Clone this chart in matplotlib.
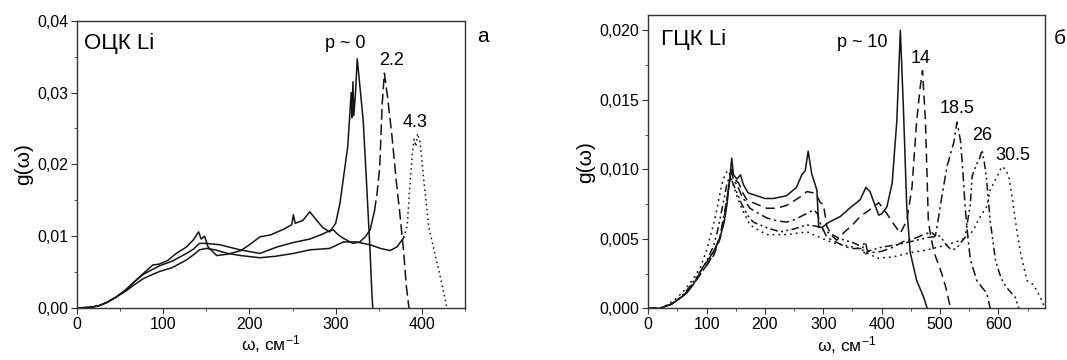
import matplotlib
matplotlib.use("Agg")
import matplotlib.pyplot as plt
from matplotlib.ticker import MultipleLocator, FuncFormatter

plt.rcParams["font.family"] = ["Liberation Sans", "DejaVu Sans"]
plt.rcParams["mathtext.fontset"] = "custom"
plt.rcParams["mathtext.rm"] = "Liberation Sans"
plt.rcParams["mathtext.it"] = "Liberation Sans"

# --- panel a: bcc Li ---
w_p0 = [0, 15, 25, 35, 45, 56, 65, 75, 88, 95, 105, 115, 127, 135, 141, 144, 148, 152,
        162, 175, 190, 200, 212, 225, 240, 249, 251, 253, 262, 270, 276, 285, 293, 300,
        305, 310, 314, 318, 319, 320, 321, 323, 325, 328, 332, 336, 340, 342, 343]
g_p0 = [0, 0.0001, 0.0003, 0.0008, 0.0015, 0.0025, 0.0035, 0.0046, 0.0060, 0.0061, 0.0066,
        0.0076, 0.0085, 0.0095, 0.0106, 0.0096, 0.0100, 0.0085, 0.0073, 0.0075, 0.0080,
        0.0088, 0.0099, 0.0102, 0.0110, 0.0116, 0.0130, 0.0118, 0.0122, 0.0134, 0.0125,
        0.0112, 0.0106, 0.0118, 0.0146, 0.0190, 0.0225, 0.0300, 0.0265, 0.0315, 0.0268,
        0.0300, 0.0347, 0.0310, 0.0260, 0.0170, 0.0076, 0.0020, 0]

w_p22 = [0, 15, 25, 35, 45, 57, 66, 77, 88, 96, 110, 127, 135, 142, 150, 166, 189, 212,
         232, 250, 270, 285, 290, 297, 303, 309, 320, 328, 335, 340, 345, 348, 351, 354,
         356.5, 360, 365, 370, 375, 379, 382, 385]
g_p22 = [0, 0.0001, 0.0003, 0.0008, 0.0015, 0.0025, 0.0036, 0.0047, 0.0054, 0.0059, 0.0065,
         0.0076, 0.0082, 0.0090, 0.0090, 0.0088, 0.0081, 0.0076, 0.0085, 0.0091, 0.0096,
         0.0103, 0.0106, 0.0109, 0.0102, 0.0097, 0.0090, 0.0092, 0.0100, 0.0109, 0.0135,
         0.0160, 0.0195, 0.0285, 0.0327, 0.0295, 0.0243, 0.0180, 0.0125, 0.0076, 0.0030, 0]

w_p43 = [0, 15, 25, 35, 45, 57, 66, 77, 88, 96, 110, 127, 135, 142, 150, 160, 175, 190,
         212, 230, 251, 270, 293, 309, 324, 340, 352, 363, 371, 379, 383, 386, 389, 391,
         393, 395, 398, 402, 408, 415, 422, 429]
g_p43 = [0, 0.0001, 0.0003, 0.0008, 0.0015, 0.0024, 0.0032, 0.0041, 0.0047, 0.0051, 0.0056,
         0.0067, 0.0074, 0.0081, 0.0083, 0.0081, 0.0076, 0.0073, 0.0070, 0.0072, 0.0076,
         0.0081, 0.0083, 0.0092, 0.0092, 0.0088, 0.0083, 0.0080, 0.0085, 0.0098, 0.0115,
         0.0169, 0.0215, 0.0235, 0.0225, 0.0243, 0.0230, 0.0180, 0.0113, 0.0076, 0.0040, 0]

# --- panel б: fcc Li ---
w_p10 = [0, 20, 26, 40, 49, 60, 66, 77, 85, 94, 103, 112, 123, 130, 135, 140, 143, 146,
         152, 158, 163, 171, 186, 200, 214, 237, 254, 263, 269, 274, 280, 289, 292, 297,
         310, 329, 345, 363, 373, 380, 386, 395, 400, 409, 418, 426, 432, 437, 443, 449,
         460, 472, 478]
g_p10 = [0, 0, 0.0001, 0.0003, 0.0006, 0.0009, 0.0011, 0.0017, 0.0023, 0.0030, 0.0035,
         0.0041, 0.0051, 0.0062, 0.0075, 0.0095, 0.0108, 0.0096, 0.0093, 0.0096, 0.0089,
         0.0083, 0.0081, 0.0079, 0.0079, 0.0081, 0.0087, 0.0096, 0.0099, 0.0113, 0.0097,
         0.0085, 0.0059, 0.0058, 0.0062, 0.0066, 0.0072, 0.0078, 0.0087, 0.0084, 0.0077,
         0.0067, 0.0068, 0.0073, 0.0090, 0.0135, 0.0200, 0.0147, 0.0073, 0.0040, 0.0020,
         0.0008, 0]

w_p14 = [0, 20, 26, 40, 50, 60, 70, 80, 90, 100, 112, 123, 132, 138, 143, 148, 155, 162,
         169, 185, 203, 220, 237, 260, 272, 283, 290, 295, 300, 306, 315, 323, 334, 350,
         363, 380, 395, 402, 409, 420, 432, 443, 452, 460, 466, 470, 475, 480, 484, 490,
         503, 510, 518]
g_p14 = [0, 0, 0.0001, 0.0003, 0.0006, 0.0009, 0.0014, 0.0019, 0.0025, 0.0031, 0.0038,
         0.0050, 0.0070, 0.0088, 0.0100, 0.0093, 0.0090, 0.0083, 0.0078, 0.0075, 0.0072,
         0.0072, 0.0074, 0.0080, 0.0084, 0.0083, 0.0080, 0.0076, 0.0075, 0.0059, 0.0052,
         0.0049, 0.0054, 0.0060, 0.0066, 0.0071, 0.0076, 0.0072, 0.0068, 0.0061, 0.0054,
         0.0063, 0.0087, 0.0135, 0.0159, 0.0171, 0.0135, 0.0063, 0.0052, 0.0040, 0.0025,
         0.0015, 0]

w_p185 = [0, 20, 26, 40, 50, 60, 70, 80, 90, 100, 112, 123, 132, 138, 142, 147, 153, 160,
          174, 190, 203, 220, 237, 252, 266, 276, 283, 290, 295, 306, 320, 340, 352, 365,
          372, 375, 380, 400, 420, 437, 455, 472, 485, 492, 495, 503, 512, 518, 524, 529,
          535, 539, 543, 548, 552, 563, 572, 580, 586]
g_p185 = [0, 0, 0.0001, 0.0003, 0.0006, 0.0009, 0.0014, 0.0019, 0.0025, 0.0031, 0.0039,
          0.0052, 0.0072, 0.0088, 0.0098, 0.0092, 0.0088, 0.0081, 0.0072, 0.0068, 0.0065,
          0.0063, 0.0062, 0.0064, 0.0067, 0.0069, 0.0071, 0.0068, 0.0061, 0.0051, 0.0048,
          0.0044, 0.0043, 0.0043, 0.0048, 0.0042, 0.0040, 0.0041, 0.0044, 0.0048, 0.0050,
          0.0053, 0.0055, 0.0052, 0.0059, 0.0080, 0.0102, 0.0111, 0.0120, 0.0134, 0.0121,
          0.0100, 0.0073, 0.0050, 0.0035, 0.0020, 0.0015, 0.0011, 0]

w_p26 = [0, 20, 26, 40, 50, 60, 70, 80, 90, 100, 112, 120, 128, 135, 140, 145, 152, 160,
         170, 180, 203, 226, 249, 272, 289, 306, 329, 352, 368, 371, 376, 400, 430, 460,
         480, 500, 512, 520, 528, 535, 543, 552, 555, 563, 568, 572, 576, 580, 586, 595,
         602, 609, 620, 629, 635]
g_p26 = [0, 0, 0.0001, 0.0003, 0.0006, 0.0010, 0.0015, 0.0021, 0.0027, 0.0034, 0.0045,
         0.0058, 0.0075, 0.0090, 0.0095, 0.0090, 0.0083, 0.0075, 0.0067, 0.0062, 0.0058,
         0.0055, 0.0057, 0.0060, 0.0059, 0.0055, 0.0050, 0.0047, 0.0044, 0.0038, 0.0041,
         0.0044, 0.0046, 0.0049, 0.0051, 0.0052, 0.0045, 0.0042, 0.0043, 0.0047, 0.0051,
         0.0075, 0.0095, 0.0104, 0.0108, 0.0114, 0.0105, 0.0092, 0.0063, 0.0035, 0.0025,
         0.0018, 0.0012, 0.0008, 0]

w_p305 = [0, 20, 30, 45, 60, 75, 90, 100, 111, 118, 123, 128, 132, 137, 142, 150, 160,
          174, 190, 203, 237, 272, 294, 317, 340, 363, 392, 420, 449, 478, 506, 529, 546,
          557, 565, 572, 580, 586, 592, 599, 606, 612, 618, 626, 632, 638, 649, 660, 672,
          680]
g_p305 = [0, 0, 0.0002, 0.0006, 0.0012, 0.0020, 0.0030, 0.0042, 0.0059, 0.0072, 0.0083,
          0.0092, 0.0097, 0.0099, 0.0094, 0.0083, 0.0072, 0.0060, 0.0056, 0.0053, 0.0053,
          0.0055, 0.0051, 0.0047, 0.0045, 0.0043, 0.0036, 0.0037, 0.0040, 0.0042, 0.0045,
          0.0048, 0.0051, 0.0056, 0.0063, 0.0068, 0.0073, 0.0085, 0.0090, 0.0096, 0.0102,
          0.0100, 0.0095, 0.0073, 0.0055, 0.0040, 0.0020, 0.0017, 0.0008, 0]

LC = "#151515"
LW = 1.1


def split_plot(ax, w, g, w_switch, dashes):
    """Solid below w_switch, patterned above (as in the original scan)."""
    lo = [i for i, x in enumerate(w) if x <= w_switch]
    hi = [i for i, x in enumerate(w) if x >= w[lo[-1]]]
    ax.plot([w[i] for i in lo], [g[i] for i in lo], color=LC, lw=LW)
    ax.plot([w[i] for i in hi], [g[i] for i in hi], color=LC, lw=LW, dashes=dashes)


def comma(v, pos, nd):
    return f"{v:.{nd}f}".replace(".", ",")


def style_axes(ax, xmax, ymax, ymaj, ymin, nd):
    ax.set_xlim(0, xmax)
    ax.set_ylim(0, ymax)
    ax.xaxis.set_major_locator(MultipleLocator(100))
    ax.xaxis.set_minor_locator(MultipleLocator(50))
    ax.yaxis.set_major_locator(MultipleLocator(ymaj))
    ax.yaxis.set_minor_locator(MultipleLocator(ymin))
    ax.yaxis.set_major_formatter(FuncFormatter(lambda v, p: comma(v, p, nd)))
    ax.tick_params(which="both", direction="out", top=False, right=False,
                   labelsize=11.5, color="#333333", pad=2.5)
    ax.tick_params(which="major", length=4)
    ax.tick_params(which="minor", length=2.5)
    for s in ax.spines.values():
        s.set_color("#333333")
        s.set_linewidth(1.0)
    ax.set_xlabel("ω, см$^{-1}$", fontsize=12.5, labelpad=1)
    ax.set_ylabel("g(ω)", fontsize=15, labelpad=3)


fig = plt.figure(figsize=(10.67, 3.6), dpi=100)
ax1 = fig.add_axes([0.0722, 0.1444, 0.3636, 0.798])
ax2 = fig.add_axes([0.6076, 0.1436, 0.3718, 0.8147])

# panel a
ax1.plot(w_p0, g_p0, color=LC, lw=LW)
split_plot(ax1, w_p22, g_p22, 345, (7, 3))
split_plot(ax1, w_p43, g_p43, 379, (1, 2.2))
style_axes(ax1, 450, 0.04, 0.01, 0.005, 2)
ax1.text(8, 0.0369, "ОЦК Li", fontsize=16, ha="left", va="center")
ax1.text(311, 0.0368, "p ~ 0", fontsize=13, ha="center", va="center")
ax1.text(365, 0.0344, "2.2", fontsize=13, ha="center", va="center")
ax1.text(392, 0.0259, "4.3", fontsize=13, ha="center", va="center")

# panel б
ax2.plot(w_p10, g_p10, color=LC, lw=LW)
ax2.plot(w_p14, g_p14, color=LC, lw=LW, dashes=(6, 3.5))
ax2.plot(w_p185, g_p185, color=LC, lw=LW, dashes=(6, 2.5, 1.5, 2.5))
ax2.plot(w_p26, g_p26, color=LC, lw=LW, dashes=(5, 2.2, 1.3, 2.2, 1.3, 2.2))
ax2.plot(w_p305, g_p305, color=LC, lw=LW, dashes=(1.2, 2.6))
style_axes(ax2, 680, 0.0211, 0.005, 0.0025, 3)
ax2.text(22, 0.01935, "ГЦК Li", fontsize=16, ha="left", va="center")
ax2.text(367, 0.0191, "p ~ 10", fontsize=13, ha="center", va="center")
ax2.text(467, 0.0180, "14", fontsize=13, ha="center", va="center")
ax2.text(529, 0.0144, "18.5", fontsize=13, ha="center", va="center")
ax2.text(572, 0.01245, "26", fontsize=13, ha="center", va="center")
ax2.text(625, 0.0110, "30.5", fontsize=13, ha="center", va="center")

fig.text(0.4527, 0.90, "а", fontsize=15, ha="center", va="center")
fig.text(0.9934, 0.892, "б", fontsize=15, ha="center", va="center")

fig.savefig("out.png", dpi=100)
